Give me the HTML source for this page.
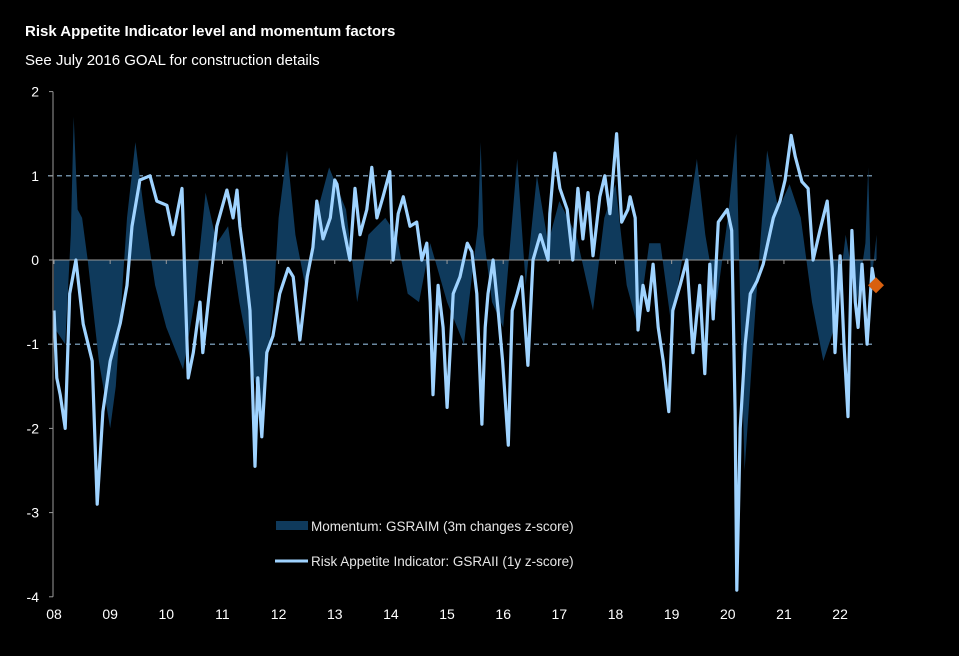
<!DOCTYPE html>
<html><head><meta charset="utf-8"><style>
html,body{margin:0;padding:0;background:#000;width:959px;height:656px;overflow:hidden}
svg{display:block}
text{font-family:"Liberation Sans",Arial,sans-serif}
</style></head><body>
<svg id="chart" width="959" height="656" viewBox="0 0 959 656">
<rect width="959" height="656" fill="#000"/>
<text x="25" y="36" fill="#fff" font-size="15" font-weight="bold">Risk Appetite Indicator level and momentum factors</text>
<text x="25" y="65" fill="#fff" font-size="15">See July 2016 GOAL for construction details</text>
<g id="grid"></g>
<g id="momentum"></g>
<g id="line"></g>
<g id="axes"></g>
<g>
<rect x="276" y="521" width="32" height="9" fill="#0f3a5c"/>
<text x="311" y="531" fill="#e6e6e6" font-size="13.5">Momentum: GSRAIM (3m changes z-score)</text>
<line x1="275" y1="561" x2="308" y2="561" stroke="#9fd3ff" stroke-width="3"/>
<text x="311" y="566" fill="#e6e6e6" font-size="13.5">Risk Appetite Indicator: GSRAII (1y z-score)</text>
</g>
</svg>
<script>
const yTicks=[2,1,0,-1,-2,-3,-4];
const xTickYears=[2008,2009,2010,2011,2012,2013,2014,2015,2016,2017,2018,2019,2020,2021,2022];
const xTickLabels=["08","09","10","11","12","13","14","15","16","17","18","19","20","21","22"];
const indDates=[2008.0,2008.05,2008.11,2008.2,2008.28,2008.39,2008.52,2008.68,2008.77,2008.87,2009.0,2009.18,2009.3,2009.39,2009.53,2009.71,2009.83,2010.01,2010.12,2010.28,2010.33,2010.39,2010.48,2010.6,2010.65,2010.78,2010.9,2011.08,2011.19,2011.26,2011.31,2011.4,2011.49,2011.58,2011.63,2011.7,2011.79,2011.9,2012.02,2012.17,2012.26,2012.38,2012.51,2012.61,2012.68,2012.79,2012.92,2013.0,2013.04,2013.15,2013.27,2013.36,2013.45,2013.57,2013.66,2013.75,2013.86,2013.98,2014.04,2014.13,2014.22,2014.34,2014.46,2014.55,2014.64,2014.7,2014.75,2014.84,2014.93,2015.0,2015.11,2015.23,2015.36,2015.44,2015.53,2015.62,2015.68,2015.73,2015.82,2015.91,2015.99,2016.09,2016.16,2016.25,2016.33,2016.44,2016.53,2016.66,2016.8,2016.83,2016.92,2017.01,2017.14,2017.24,2017.33,2017.42,2017.51,2017.6,2017.72,2017.81,2017.9,2018.02,2018.11,2018.22,2018.26,2018.35,2018.4,2018.49,2018.58,2018.67,2018.76,2018.85,2018.95,2019.02,2019.15,2019.27,2019.38,2019.5,2019.59,2019.68,2019.74,2019.83,2019.99,2020.07,2020.13,2020.16,2020.22,2020.31,2020.4,2020.52,2020.63,2020.81,2020.93,2021.02,2021.13,2021.2,2021.32,2021.43,2021.52,2021.64,2021.77,2021.86,2021.91,2022.0,2022.07,2022.14,2022.21,2022.27,2022.32,2022.39,2022.48,2022.57,2022.62];
const indValues=[-0.6,-1.4,-1.6,-2.0,-0.4,0.0,-0.76,-1.2,-2.9,-1.8,-1.2,-0.75,-0.3,0.4,0.95,1.0,0.7,0.65,0.3,0.85,-0.2,-1.4,-1.1,-0.5,-1.1,-0.3,0.4,0.83,0.5,0.83,0.4,-0.05,-0.6,-2.45,-1.4,-2.1,-1.1,-0.9,-0.4,-0.1,-0.2,-0.95,-0.2,0.15,0.7,0.25,0.5,0.95,0.9,0.4,0.0,0.85,0.3,0.6,1.1,0.5,0.75,1.05,0.0,0.55,0.75,0.4,0.45,0.0,0.2,-0.5,-1.6,-0.3,-0.8,-1.75,-0.4,-0.2,0.2,0.1,-0.4,-1.95,-0.8,-0.4,0.0,-0.6,-1.2,-2.2,-0.6,-0.4,-0.2,-1.25,0.0,0.3,0.0,0.55,1.27,0.85,0.6,0.0,0.85,0.25,0.8,0.05,0.75,1.0,0.55,1.5,0.45,0.6,0.75,0.5,-0.83,-0.3,-0.6,-0.05,-0.8,-1.2,-1.8,-0.6,-0.3,0.0,-1.1,-0.3,-1.35,-0.05,-0.7,0.45,0.6,0.35,-1.8,-3.92,-2.0,-1.0,-0.4,-0.25,-0.05,0.5,0.7,0.95,1.48,1.23,0.93,0.85,0.0,0.35,0.7,-0.1,-1.1,0.05,-1.0,-1.86,0.35,-0.5,-0.8,-0.05,-1.0,-0.1,-0.3];
const momDates=[2008.0,2008.2,2008.3,2008.35,2008.42,2008.5,2008.6,2008.8,2009.0,2009.1,2009.3,2009.45,2009.6,2009.8,2010.0,2010.3,2010.5,2010.7,2010.9,2011.1,2011.3,2011.5,2011.7,2011.9,2012.0,2012.15,2012.3,2012.5,2012.7,2012.9,2013.2,2013.4,2013.6,2013.9,2014.1,2014.3,2014.5,2014.7,2015.0,2015.3,2015.55,2015.6,2015.65,2015.8,2016.0,2016.25,2016.4,2016.6,2016.8,2017.0,2017.3,2017.6,2017.8,2018.0,2018.2,2018.4,2018.6,2018.8,2019.0,2019.3,2019.45,2019.6,2019.8,2020.0,2020.15,2020.22,2020.3,2020.5,2020.7,2020.9,2021.1,2021.3,2021.5,2021.7,2021.9,2022.1,2022.3,2022.45,2022.5,2022.55,2022.65];
const momValues=[-0.8,-1.0,0.3,1.7,0.6,0.5,0.0,-1.2,-2.0,-1.5,0.5,1.4,0.6,-0.3,-0.8,-1.3,-0.5,0.8,0.2,0.4,-0.5,-1.2,-1.8,-0.6,0.5,1.3,0.3,-0.4,0.6,1.1,0.6,-0.5,0.3,0.5,0.3,-0.4,-0.5,0.2,-0.5,-1.0,0.4,1.4,0.3,-0.5,-0.8,1.2,-0.3,1.0,0.2,0.7,0.3,-0.6,0.5,0.9,-0.3,-0.8,0.2,0.2,-0.8,0.5,1.2,0.3,-0.5,0.5,1.5,-0.5,-2.5,-0.5,1.3,0.6,0.9,0.5,-0.5,-1.2,-0.8,0.3,-0.5,0.2,1.1,-0.3,0.3];
const lastValue=-0.3;

const NS="http://www.w3.org/2000/svg";
const X0=54,PXY=56.15,Y0=260,PXV=84.2,XEND=876;
function xs(d){return X0+(d-2008)*PXY;}
function ys(v){return Y0-v*PXV;}
function mk(tag,attrs,parent){const e=document.createElementNS(NS,tag);for(const k in attrs)e.setAttribute(k,attrs[k]);parent.appendChild(e);return e;}
const grid=document.getElementById('grid'),axes=document.getElementById('axes');
[1,-1].forEach(v=>{
 const l=mk('line',{x1:48,x2:XEND,y1:ys(v),y2:ys(v),stroke:'#8fb8d8','stroke-width':1.2,'stroke-dasharray':'5,4'},grid);
 
 
});
let d='M'+xs(momDates[0])+','+ys(0);
momDates.forEach((t,i)=>{d+=' L'+xs(t).toFixed(1)+','+ys(momValues[i]).toFixed(1);});
d+=' L'+xs(momDates[momDates.length-1])+','+ys(0)+' Z';
const area=mk('path',{d:d,fill:'#0f3a5c'},document.getElementById('momentum'));


const zl=mk('line',{x1:53,x2:XEND,y1:ys(0),y2:ys(0),stroke:'#9a9a9a','stroke-width':1},document.getElementById('momentum'));


xTickYears.forEach(y=>{const t=mk('line',{x1:xs(y),x2:xs(y),y1:ys(0),y2:ys(0)+4,stroke:'#9a9a9a'},axes);
 
 });
const pts=indDates.map((t,i)=>xs(t).toFixed(1)+','+ys(indValues[i]).toFixed(1)).join(' ');
const pl=mk('polyline',{points:pts,fill:'none',stroke:'#9fd3ff','stroke-width':3.2,'stroke-linejoin':'round'},document.getElementById('line'));


const lx=XEND,ly=ys(lastValue);
const dm=mk('polygon',{points:`${lx},${ly-8} ${lx+8},${ly} ${lx},${ly+8} ${lx-8},${ly}`,fill:'#d9600f'},document.getElementById('line'));


const ya=mk('line',{x1:53,x2:53,y1:ys(2),y2:ys(-4),stroke:'#9a9a9a'},axes);


yTicks.forEach(v=>{
 const tk=mk('line',{x1:49,x2:53,y1:ys(v),y2:ys(v),stroke:'#9a9a9a'},axes);
 
 
 const tx=mk('text',{x:39,y:ys(v)+5,fill:'#fff','font-size':14,'text-anchor':'end'},axes);
 tx.textContent=String(v);
 
 
});
xTickYears.forEach((y,i)=>{
 const tx=mk('text',{x:xs(y),y:619,fill:'#fff','font-size':14,'text-anchor':'middle'},axes);
 tx.textContent=xTickLabels[i];
 
 
});
</script>
</body></html>
